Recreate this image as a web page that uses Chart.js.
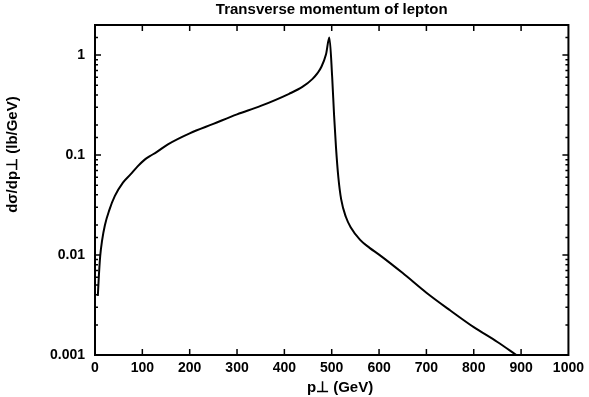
<!DOCTYPE html>
<html>
<head>
<meta charset="utf-8">
<script src="https://cdn.jsdelivr.net/npm/chart.js@4"></script>
<style>
  html, body { margin: 0; padding: 0; background: #fff; }
  #wrap { width: 589px; height: 397px; }
</style>
</head>
<body>
<div id="wrap"><canvas id="ptChart"></canvas></div>
<script>
// transverse momentum (GeV) and cross section
const ptValues = [6, 8, 11, 15, 21, 30, 42, 59, 75, 90, 105, 115, 130, 154, 200, 250, 300, 350, 410, 438,
  459, 470, 478, 488, 495, 501, 505, 509, 514, 520, 530, 540, 560, 580, 600, 650, 700, 750, 800, 850, 890];
const sigmaValues = [0.0039, 0.006, 0.0098, 0.014, 0.02, 0.028, 0.039, 0.053, 0.064, 0.077, 0.09, 0.097, 0.107, 0.128, 0.165, 0.205, 0.255, 0.31, 0.41, 0.48,
  0.575, 0.66, 0.76, 1.02, 1.5, 0.6, 0.25, 0.12, 0.06, 0.036, 0.024, 0.019, 0.0142, 0.0118, 0.0101, 0.0066, 0.0042, 0.0028, 0.0019, 0.00135, 0.001];
const yTickLabels = [0.001, 0.01, 0.1, 1];

const FONT = "'Liberation Sans', Arial, sans-serif";

// draws the frame and the inward ticks on all four sides
const frameTicks = {
  id: "frameTicks",
  afterDraw(chart) {
    const ctx = chart.ctx;
    const a = chart.chartArea;
    const xs = chart.scales.x;
    const ys = chart.scales.y;
    ctx.save();
    ctx.strokeStyle = "#000";
    ctx.lineWidth = 1.5;
    ctx.beginPath();
    xs.ticks.forEach(t => {
      if (t.value <= xs.min || t.value >= xs.max) return;
      const px = xs.getPixelForValue(t.value);
      ctx.moveTo(px, a.bottom); ctx.lineTo(px, a.bottom - 6);
      ctx.moveTo(px, a.top); ctx.lineTo(px, a.top + 6);
    });
    ys.ticks.forEach(t => {
      if (t.value <= ys.min || t.value >= ys.max) return;
      const py = ys.getPixelForValue(t.value);
      const major = Math.abs(Math.log10(t.value) - Math.round(Math.log10(t.value))) < 1e-6;
      const len = major ? 6 : 3;
      ctx.moveTo(a.left, py); ctx.lineTo(a.left + len, py);
      ctx.moveTo(a.right, py); ctx.lineTo(a.right - len, py);
    });
    ctx.stroke();
    ctx.lineWidth = 2;
    ctx.strokeRect(a.left, a.top, a.right - a.left, a.bottom - a.top);
    ctx.restore();
  }
};

new Chart(document.getElementById("ptChart"), {
  type: "line",
  data: {
    datasets: [{
      data: ptValues.map((x, i) => ({ x: x, y: sigmaValues[i] })),
      borderColor: "#000",
      borderWidth: 2,
      pointRadius: 0,
      cubicInterpolationMode: "monotone",
      fill: false
    }]
  },
  options: {
    responsive: true,
    maintainAspectRatio: false,
    animation: false,
    layout: { padding: { left: 4, right: 17, top: 0, bottom: 0 } },
    plugins: {
      legend: { display: false },
      tooltip: { enabled: false },
      title: {
        display: true,
        fullSize: false,
        text: "Transverse momentum of lepton",
        color: "#000",
        font: { family: FONT, size: 15, weight: "bold", lineHeight: 1.2 },
        padding: { top: 1, bottom: 6 }
      }
    },
    scales: {
      x: {
        type: "linear",
        min: 0,
        max: 1000,
        afterFit: s => { s.height = 42; },
        grid: { display: false, drawTicks: false },
        border: { display: false },
        ticks: {
          stepSize: 100,
          padding: 5,
          color: "#000",
          maxRotation: 0,
          font: { family: FONT, size: 14, weight: "bold" },
          callback: v => String(v)
        },
        title: {
          display: true,
          text: "    p\u22a5 (GeV)",
          color: "#000",
          padding: { top: 0, bottom: 0 },
          font: { family: FONT, size: 15, weight: "bold" }
        }
      },
      y: {
        type: "logarithmic",
        min: 0.001,
        max: 2,
        afterFit: s => { s.width = 91; },
        grid: { display: false, drawTicks: false },
        border: { display: false },
        ticks: {
          padding: 10,
          color: "#000",
          autoSkip: false,
          font: { family: FONT, size: 14, weight: "bold" },
          callback: function (v) {
            return yTickLabels.some(t => Math.abs(t - v) / t < 1e-6) ? String(v) : "";
          }
        },
        title: {
          display: true,
          text: "                 d\u03c3/dp\u22a5 (lb/GeV)",
          color: "#000",
          padding: { top: 0, bottom: 4 },
          font: { family: FONT, size: 15, weight: "bold" }
        }
      }
    }
  },
  plugins: [frameTicks]
});
</script>
</body>
</html>
